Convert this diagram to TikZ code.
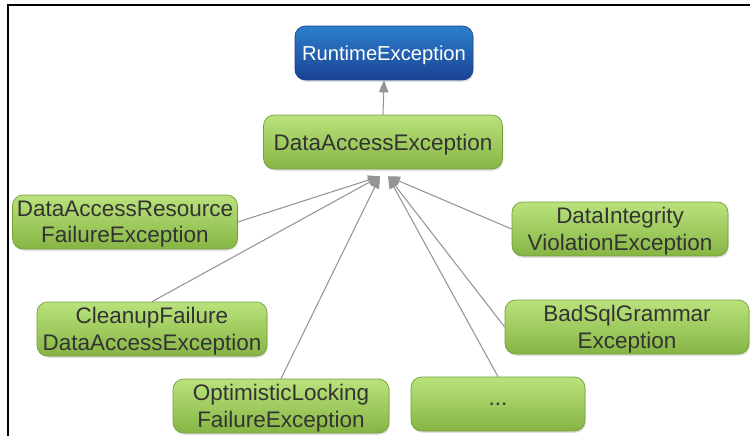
\documentclass[tikz,border=0pt]{standalone}
\usepackage{fontspec}
\setmainfont{Liberation Sans}
\usetikzlibrary{arrows.meta,shadows}
\definecolor{leafgreen}{RGB}{186,226,124}
\definecolor{stemgreen}{RGB}{134,181,68}
\definecolor{rimgreen}{RGB}{116,158,58}
\definecolor{rootblue}{RGB}{44,128,204}
\definecolor{deepblue}{RGB}{26,66,148}
\definecolor{inkgray}{RGB}{51,51,51}

\begin{document}
\begin{tikzpicture}[
  x=0.02cm, y=-0.02cm,
  exbox/.style={draw=rimgreen, rounded corners=6pt, align=center,
  top color=leafgreen, bottom color=stemgreen, text=inkgray,
  minimum height=1.08cm, inner sep=1pt, text depth=-2pt,
  font=\fontsize{12.8pt}{15pt}\selectfont,
  drop shadow={shadow xshift=0.5pt, shadow yshift=-1pt, opacity=0.25}},
  rootbox/.style={exbox, draw=deepblue, top color=rootblue,
  bottom color=deepblue, text=white, font=\fontsize{11.5pt}{14pt}\selectfont},
  inherit/.style={-{Triangle[length=2.4mm, width=1.9mm]}, draw=black!42,
  line width=0.6pt},
  frame/.style={draw=black, line width=1.3pt}
]
\useasboundingbox (0,0) rectangle (750,436);
\draw[frame] (750,5) -- (8,5) -- (8,436);

\node[rootbox, minimum width=3.56cm] (runtime) at (384,53) {RuntimeException};
\node[exbox, minimum width=4.78cm] (dae) at (383,142) {DataAccessException};
\node[exbox, minimum width=4.5cm] (darfe) at (125,222) {DataAccessResource\\FailureException};
\node[exbox, minimum width=4.32cm] (dive) at (620,229) {DataIntegrity\\ViolationException};
\node[exbox, minimum width=4.6cm] (cfdae) at (152,329) {CleanupFailure\\DataAccessException};
\node[exbox, minimum width=4.88cm] (bsge) at (627,327) {BadSqlGrammar\\Exception};
\node[exbox, minimum width=4.32cm] (olfe) at (281,406) {OptimisticLocking\\FailureException};
\node[exbox, minimum width=3.48cm] (more) at (498,404) {...};

\draw[inherit] (dae.north) -- (runtime.south);
\foreach \kid in {darfe.east, cfdae.north, olfe.north}
  \draw[inherit] (\kid) -- ([shift={(-3,7)}]dae.south);
\foreach \kid in {more.north, bsge.west, dive.west}
  \draw[inherit] (\kid) -- ([shift={(5,7)}]dae.south);
\end{tikzpicture}
\end{document}
